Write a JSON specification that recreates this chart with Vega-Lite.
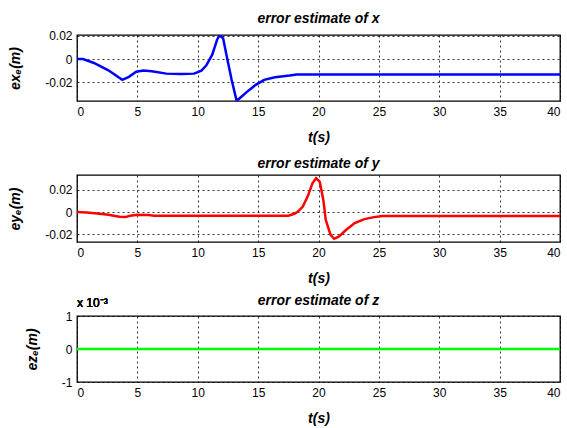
{
  "$schema": "https://vega.github.io/schema/vega-lite/v6.json",
  "background": "white",
  "padding": {"left": 7, "top": 11, "right": 5, "bottom": 3},
  "config": {
    "font": "Liberation Sans",
    "view": {"stroke": "black", "strokeWidth": 1.3},
    "axis": {
      "labelFont": "Liberation Sans",
      "labelFontSize": 12,
      "labelColor": "black",
      "labelOverlap": false,
      "ticks": false,
      "domain": false,
      "grid": true,
      "gridColor": "black",
      "gridOpacity": 1,
      "gridDash": [2, 3],
      "gridWidth": 0.8,
      "titleFont": "Liberation Sans",
      "titleFontSize": 14,
      "titleFontWeight": "bold",
      "titleFontStyle": "italic",
      "titleColor": "black"
    },
    "title": {
      "font": "Liberation Sans",
      "fontSize": 14,
      "fontWeight": "bold",
      "fontStyle": "italic",
      "color": "black",
      "offset": 4
    }
  },
  "datasets": {
    "ex": [
      {"t": 0, "v": 0}, {"t": 0.5, "v": 0}, {"t": 1.4, "v": -0.0034}, {"t": 2.6, "v": -0.0097},
      {"t": 3.75, "v": -0.018}, {"t": 4.3, "v": -0.0154}, {"t": 4.9, "v": -0.011}, {"t": 5.5, "v": -0.010},
      {"t": 6.2, "v": -0.0106}, {"t": 7.4, "v": -0.0126}, {"t": 8.6, "v": -0.013}, {"t": 9.7, "v": -0.0126},
      {"t": 10.3, "v": -0.010}, {"t": 10.7, "v": -0.0057}, {"t": 11.2, "v": 0.0037}, {"t": 11.6, "v": 0.0166},
      {"t": 11.8, "v": 0.0203}, {"t": 12.1, "v": 0.018}, {"t": 12.4, "v": 0.0023}, {"t": 12.8, "v": -0.0177},
      {"t": 13.2, "v": -0.0352}, {"t": 13.4, "v": -0.0345}, {"t": 14.0, "v": -0.029}, {"t": 14.8, "v": -0.0223},
      {"t": 15.5, "v": -0.018}, {"t": 16.4, "v": -0.0157}, {"t": 17.6, "v": -0.0143}, {"t": 18.2, "v": -0.0134},
      {"t": 25, "v": -0.0134}, {"t": 30, "v": -0.0134}, {"t": 40, "v": -0.0134}
    ],
    "ey": [
      {"t": 0, "v": 0}, {"t": 0.8, "v": -0.0003}, {"t": 1.7, "v": -0.0012}, {"t": 2.6, "v": -0.0024},
      {"t": 3.5, "v": -0.0042}, {"t": 4.0, "v": -0.0045}, {"t": 4.4, "v": -0.0033}, {"t": 5.0, "v": -0.0024},
      {"t": 5.9, "v": -0.0027}, {"t": 6.4, "v": -0.0033}, {"t": 10, "v": -0.0033}, {"t": 17.5, "v": -0.0032},
      {"t": 18.0, "v": -0.0015}, {"t": 18.3, "v": 0.0005}, {"t": 18.7, "v": 0.005}, {"t": 19.1, "v": 0.014},
      {"t": 19.5, "v": 0.026}, {"t": 19.8, "v": 0.0305}, {"t": 20.1, "v": 0.0275}, {"t": 20.4, "v": 0.011},
      {"t": 20.6, "v": -0.0069}, {"t": 21.0, "v": -0.0204}, {"t": 21.3, "v": -0.024}, {"t": 21.7, "v": -0.0219},
      {"t": 22.3, "v": -0.0159}, {"t": 23.0, "v": -0.0099}, {"t": 23.8, "v": -0.0063}, {"t": 24.6, "v": -0.0045},
      {"t": 25.3, "v": -0.0036}, {"t": 30, "v": -0.0035}, {"t": 40, "v": -0.0035}
    ],
    "ez": [
      {"t": 0, "v": 0}, {"t": 10, "v": 0}, {"t": 20, "v": 0}, {"t": 30, "v": 0}, {"t": 40, "v": 0}
    ]
  },
  "vconcat": [
    {
      "width": 483, "height": 66,
      "title": "error estimate of x",
      "data": {"name": "ex"},
      "mark": {"type": "line", "color": "#0000ff", "strokeWidth": 2.5, "clip": true},
      "encoding": {
        "x": {"field": "t", "type": "quantitative", "scale": {"domain": [0, 40], "nice": false},
              "axis": {"values": [0, 5, 10, 15, 20, 25, 30, 35, 40], "title": "t(s)", "labelPadding": 5, "titlePadding": 13}},
        "y": {"field": "v", "type": "quantitative", "scale": {"domain": [-0.0362, 0.0207], "nice": false, "zero": false},
              "axis": {"values": [-0.02, 0, 0.02], "title": "exₑ(m)", "labelPadding": 5, "titlePadding": 22,
                       "labelExpr": "datum.value == 0 ? '0' : (datum.value < 0 ? '-' : '') + format(abs(datum.value), '.2f')"}}
      }
    },
    {
      "width": 483, "height": 67,
      "title": "error estimate of y",
      "data": {"name": "ey"},
      "mark": {"type": "line", "color": "#ff0000", "strokeWidth": 2.5, "clip": true},
      "encoding": {
        "x": {"field": "t", "type": "quantitative", "scale": {"domain": [0, 40], "nice": false},
              "axis": {"values": [0, 5, 10, 15, 20, 25, 30, 35, 40], "title": "t(s)", "labelPadding": 5, "titlePadding": 13}},
        "y": {"field": "v", "type": "quantitative", "scale": {"domain": [-0.0269, 0.0334], "nice": false, "zero": false},
              "axis": {"values": [-0.02, 0, 0.02], "title": "eyₑ(m)", "labelPadding": 5, "titlePadding": 22,
                       "labelExpr": "datum.value == 0 ? '0' : (datum.value < 0 ? '-' : '') + format(abs(datum.value), '.2f')"}}
      }
    },
    {
      "width": 483, "height": 66,
      "title": {"text": "error estimate of z", "offset": -11},
      "data": {"name": "ez"},
      "layer": [
        {
          "mark": {"type": "line", "color": "#00ff00", "strokeWidth": 2.5, "clip": true},
          "encoding": {
            "x": {"field": "t", "type": "quantitative", "scale": {"domain": [0, 40], "nice": false},
                  "axis": {"values": [0, 5, 10, 15, 20, 25, 30, 35, 40], "title": "t(s)", "labelPadding": 5, "titlePadding": 13}},
            "y": {"field": "v", "type": "quantitative", "scale": {"domain": [-1, 1], "nice": false, "zero": false},
                  "axis": {"values": [-1, 0, 1], "title": "ezₑ(m)", "labelPadding": 5, "titlePadding": 22,
                           "labelExpr": "datum.value < 0 ? '-' + format(-datum.value, 'd') : format(datum.value, 'd')"}}
          }
        },
        {
          "mark": {"type": "text", "text": "x 10⁻³", "align": "left", "baseline": "bottom", "dy": -6, "fontSize": 12, "fontWeight": "normal", "fontStyle": "normal", "color": "black", "font": "Liberation Sans"},
          "encoding": {
            "x": {"datum": 0, "type": "quantitative",
                  "axis": {"values": [0, 5, 10, 15, 20, 25, 30, 35, 40], "title": "t(s)", "labelPadding": 5, "titlePadding": 13}},
            "y": {"datum": 1, "type": "quantitative",
                  "axis": {"values": [-1, 0, 1], "title": "ezₑ(m)", "labelPadding": 5, "titlePadding": 22,
                           "labelExpr": "datum.value < 0 ? '-' + format(-datum.value, 'd') : format(datum.value, 'd')"}}
          }
        }
      ]
    }
  ],
  "bounds": "flush",
  "spacing": 74
}
